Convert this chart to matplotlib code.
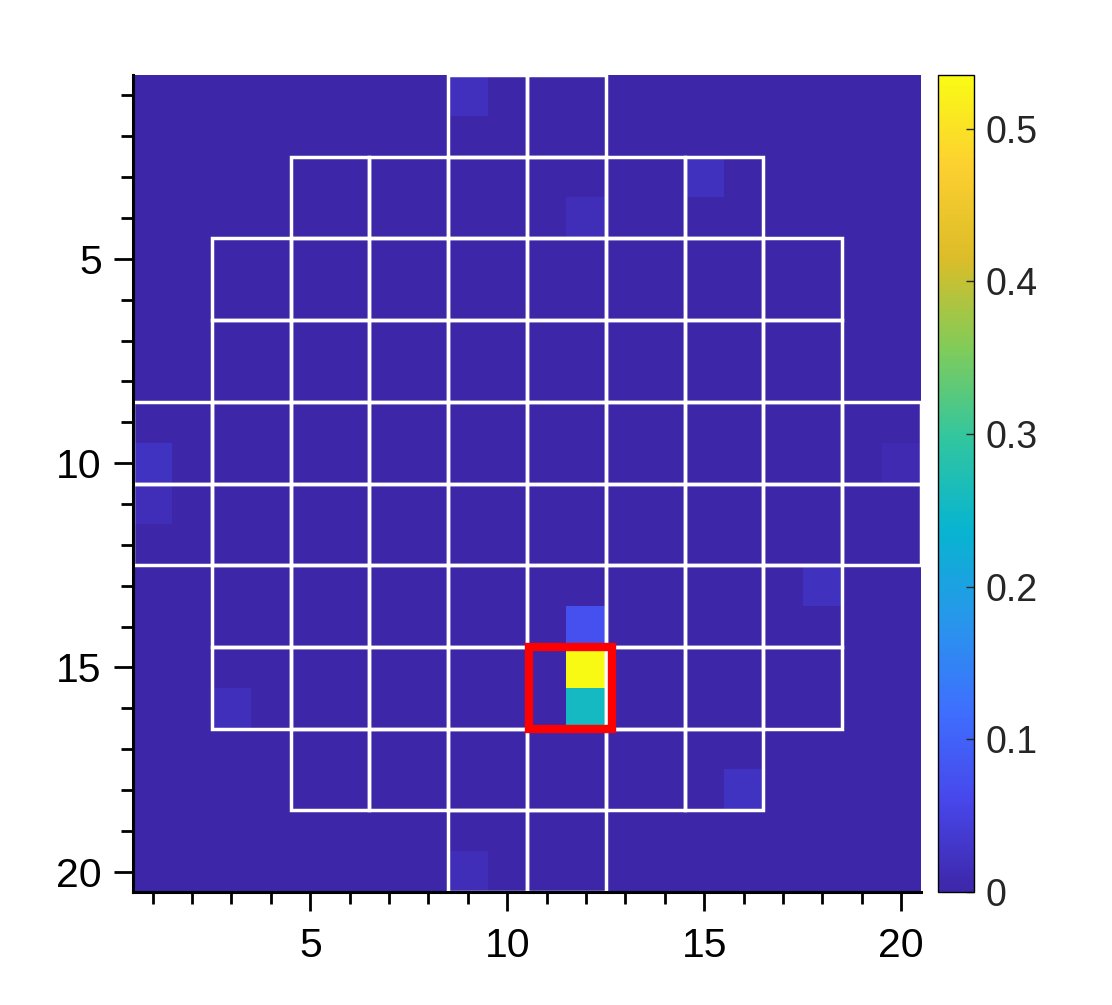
import matplotlib
matplotlib.use('Agg')
import matplotlib.pyplot as plt
from matplotlib.colors import LinearSegmentedColormap
from matplotlib.patches import Rectangle
from matplotlib.ticker import MultipleLocator
import numpy as np

plt.rcParams['font.family'] = ['Liberation Sans', 'DejaVu Sans']

# 20x20 map, mostly ~0, a few cells that stand out (1-based column / row)
n_cells = 20
hot_cols = [9, 12, 15, 1, 1, 20, 18, 3, 16, 9, 12, 12, 12]
hot_rows = [1, 4, 3, 10, 11, 10, 13, 16, 18, 20, 14, 15, 16]
hot_vals = [0.02, 0.015, 0.022, 0.025, 0.015, 0.01, 0.022, 0.018, 0.025, 0.015, 0.075, 0.535, 0.255]

# 2x2 sector blocks: for each block row, first and last block column (in cells)
block_row_top = [0.5, 2.5, 4.5, 6.5, 8.5, 10.5, 12.5, 14.5, 16.5, 18.5]
block_row_x0 = [8.5, 4.5, 2.5, 2.5, 0.5, 0.5, 2.5, 2.5, 4.5, 8.5]
block_row_x1 = [12.5, 16.5, 18.5, 18.5, 20.5, 20.5, 18.5, 18.5, 16.5, 12.5]

# highlighted region
red_box = (10.55, 14.5, 12.65, 16.5)

cbar_ticks = [0, 0.1, 0.2, 0.3, 0.4, 0.5]
vmax = 0.535

# parula-like colormap
parula_pts = [
    (0.2422, 0.1504, 0.6603), (0.2803, 0.2782, 0.9221), (0.2440, 0.4358, 0.9988),
    (0.1540, 0.5902, 0.9218), (0.0297, 0.7082, 0.8163), (0.1938, 0.7758, 0.6251),
    (0.5044, 0.7993, 0.3480), (0.8634, 0.7406, 0.1596), (0.9892, 0.8136, 0.1885),
    (0.9769, 0.9839, 0.0805)]
parula = LinearSegmentedColormap.from_list('parula', parula_pts, N=256)

data = np.zeros((n_cells, n_cells))
for c, r, v in zip(hot_cols, hot_rows, hot_vals):
    data[r - 1, c - 1] = v

fig = plt.figure(figsize=(11.12, 10.05), dpi=100)
ax = fig.add_axes([0.1196, 0.1124, 0.7086, 0.8129])
im = ax.imshow(data, cmap=parula, vmin=0, vmax=vmax, aspect='auto',
               interpolation='nearest',
               extent=[0.5, n_cells + 0.5, n_cells + 0.5, 0.5])

# white sector grid
for top, x0, x1 in zip(block_row_top, block_row_x0, block_row_x1):
    for xs in np.arange(x0, x1, 2):
        ax.add_patch(Rectangle((xs, top), 2, 2, fill=False, edgecolor='white',
                               linewidth=2.5, zorder=3))

ax.add_patch(Rectangle((red_box[0], red_box[1]), red_box[2] - red_box[0],
                       red_box[3] - red_box[1], fill=False, edgecolor='#ff0000',
                       linewidth=6, zorder=4))

ax.set_xlim(0.5, n_cells + 0.5)
ax.set_ylim(n_cells + 0.5, 0.5)
ax.xaxis.set_major_locator(MultipleLocator(5))
ax.yaxis.set_major_locator(MultipleLocator(5))
ax.xaxis.set_minor_locator(MultipleLocator(1))
ax.yaxis.set_minor_locator(MultipleLocator(1))
ax.tick_params(which='major', direction='out', length=14, width=2, labelsize=29.5,
               colors='black')
ax.tick_params(which='minor', direction='out', length=8.5, width=2)
ax.tick_params(axis='x', which='major', pad=11)
ax.tick_params(axis='y', which='major', pad=8.5)
for s in ['top', 'right']:
    ax.spines[s].set_visible(False)
for s in ['left', 'bottom']:
    ax.spines[s].set_linewidth(2.2)
    ax.spines[s].set_zorder(6)

cax = fig.add_axes([0.8435, 0.1124, 0.0324, 0.8129])
cb = fig.colorbar(im, cax=cax, ticks=cbar_ticks)
cb.ax.set_yticklabels(['0', '0.1', '0.2', '0.3', '0.4', '0.5'])
cb.ax.tick_params(direction='in', length=6, width=1, labelsize=27, colors='#262626',
                  pad=8.5)
cb.outline.set_linewidth(1)

fig.savefig('out.png', dpi=100)
